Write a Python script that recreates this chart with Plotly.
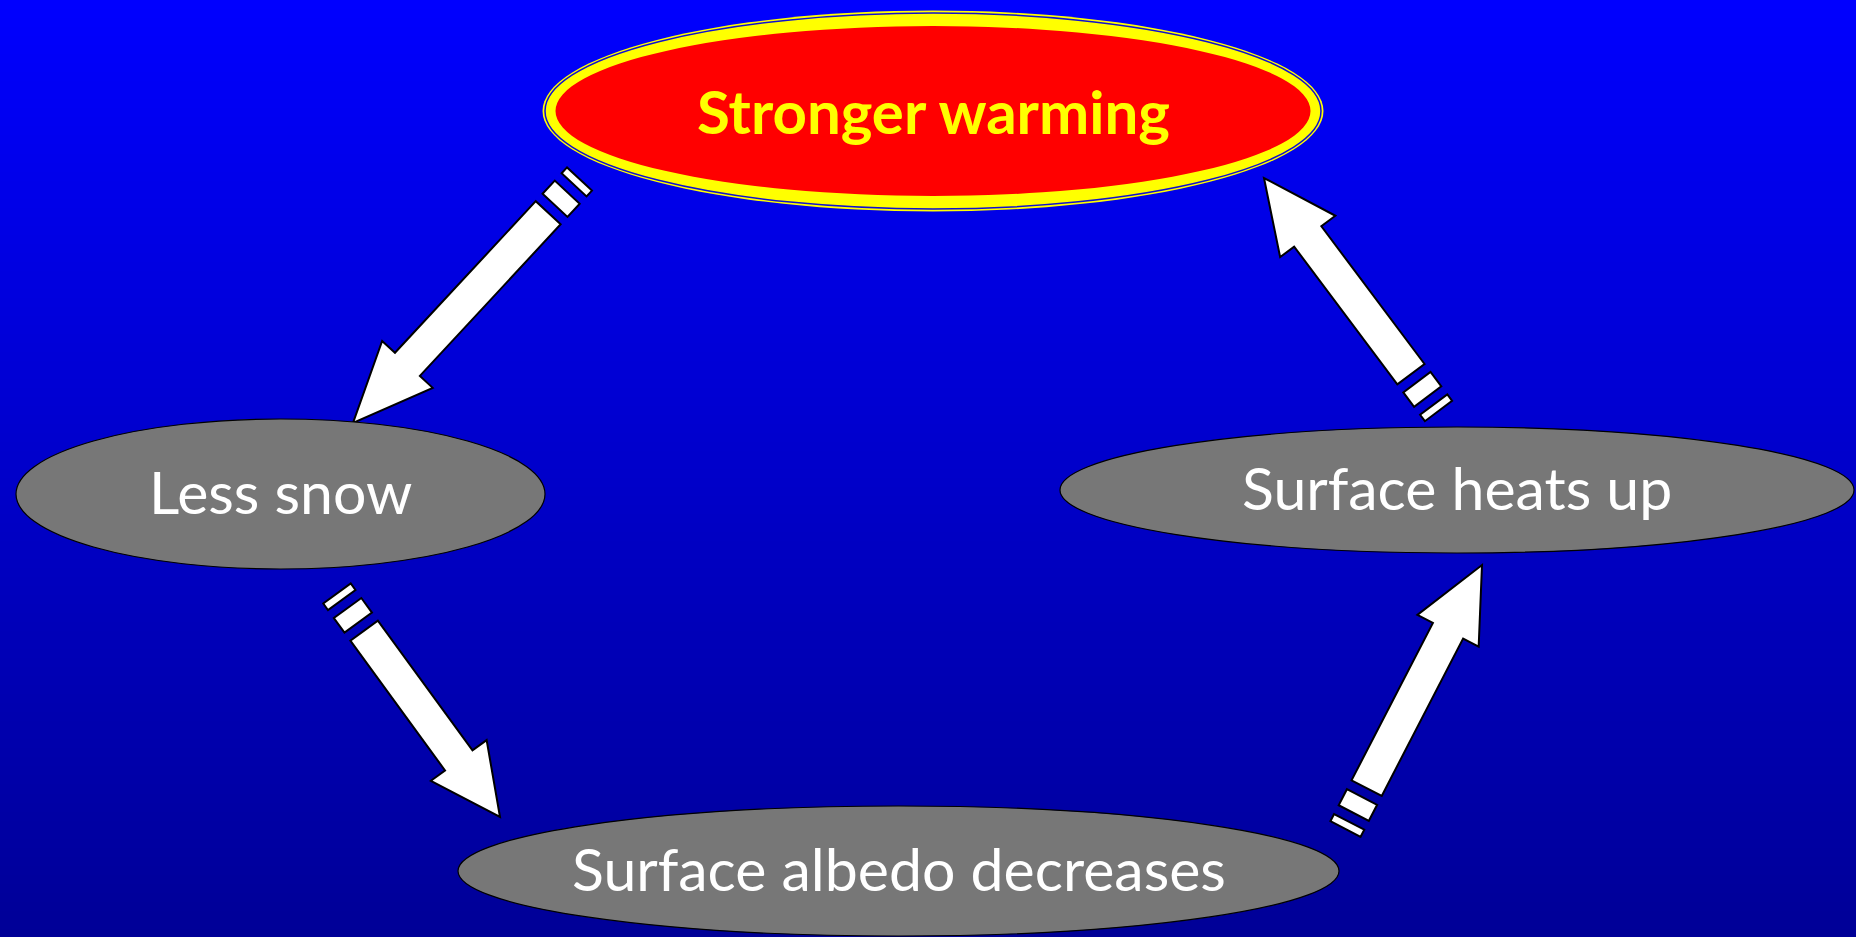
import numpy as np
import plotly.graph_objects as go

W, H = 1856, 937

# ---- node data ----
node_labels = ["Stronger warming", "Less snow", "Surface albedo decreases", "Surface heats up"]
node_cx = [933, 280.5, 898.5, 1457]
node_cy = [111, 494, 871, 490]
node_rx = [377.5, 264.5, 440.5, 397]
node_ry = [85, 75, 65, 63]
node_fill = ["#FF0000", "#777777", "#777777", "#777777"]
node_text_color = ["#FFFF00", "#FFFFFF", "#FFFFFF", "#FFFFFF"]
node_bold = [True, False, False, False]
node_font_size = [60, 59, 59, 59]
node_text_dy = [0, -3, -3, -3]

# ---- arrow data (tail end of stripes -> tip) ----
arrow_tail_x = [579.5, 337, 1345.5, 1438.5]
arrow_tail_y = [179, 593.5, 829, 411]
arrow_tip_x = [353, 500, 1482, 1264]
arrow_tip_y = [423, 817, 565, 178]
arrow_head_len = [80, 70, 74, 73]

SHAFT_W = 34
HEAD_W = 69
STRIPES = [(0, 8), (18, 36)]
SHAFT_START = 46

fig = go.Figure()

# background gradient
gy = np.linspace(-5, H + 5, 60)
gz = [[v, v] for v in gy]
fig.add_trace(go.Heatmap(x=[-5, W + 5], y=gy, z=gz, zsmooth="best",
                         colorscale=[[0, "#0000FF"], [1, "#000096"]],
                         showscale=False, hoverinfo="skip"))

shapes = []


def poly(pts):
    return "M " + " L ".join(f"{x:.2f},{y:.2f}" for x, y in pts) + " Z"


for tx, ty, px, py, hl in zip(arrow_tail_x, arrow_tail_y, arrow_tip_x, arrow_tip_y, arrow_head_len):
    T = np.array([tx, ty], float)
    P = np.array([px, py], float)
    L = np.linalg.norm(P - T)
    u = (P - T) / L
    n = np.array([-u[1], u[0]])
    for a, b in STRIPES:
        pts = [T + u * a + n * SHAFT_W / 2, T + u * b + n * SHAFT_W / 2,
               T + u * b - n * SHAFT_W / 2, T + u * a - n * SHAFT_W / 2]
        shapes.append(dict(type="path", path=poly(pts), fillcolor="white",
                           line=dict(color="black", width=2), xref="x", yref="y"))
    hb = L - hl
    pts = [T + u * SHAFT_START + n * SHAFT_W / 2, T + u * hb + n * SHAFT_W / 2,
           T + u * hb + n * HEAD_W / 2, P, T + u * hb - n * HEAD_W / 2,
           T + u * hb - n * SHAFT_W / 2, T + u * SHAFT_START - n * SHAFT_W / 2]
    shapes.append(dict(type="path", path=poly(pts), fillcolor="white",
                       line=dict(color="black", width=2), xref="x", yref="y"))

# top node decoration (yellow rings)
cx, cy, rx, ry = node_cx[0], node_cy[0], node_rx[0], node_ry[0]
shapes.append(dict(type="circle", x0=cx - rx - 13, x1=cx + rx + 13, y0=cy - ry - 15.5, y1=cy + ry + 15.5,
                   fillcolor="#FFFF00", line=dict(color="#FFFF00", width=0), xref="x", yref="y"))
shapes.append(dict(type="circle", x0=cx - rx - 10.5, x1=cx + rx + 10.5, y0=cy - ry - 13, y1=cy + ry + 13,
                   fillcolor="rgba(0,0,0,0)", line=dict(color="#1010D0", width=1.5), xref="x", yref="y"))

for i in range(len(node_labels)):
    cx, cy, rx, ry = node_cx[i], node_cy[i], node_rx[i], node_ry[i]
    shapes.append(dict(type="circle", x0=cx - rx, x1=cx + rx, y0=cy - ry, y1=cy + ry,
                       fillcolor=node_fill[i],
                       line=dict(color="black", width=0 if i == 0 else 1.2), xref="x", yref="y"))

annotations = []
for i, lab in enumerate(node_labels):
    txt = f"<b>{lab}</b>" if node_bold[i] else lab
    annotations.append(dict(x=node_cx[i], y=node_cy[i] + node_text_dy[i], text=txt, showarrow=False,
                            xref="x", yref="y", xanchor="center", yanchor="middle",
                            font=dict(family="Lato", size=node_font_size[i], color=node_text_color[i])))

fig.update_layout(
    width=W, height=H, margin=dict(l=0, r=0, t=0, b=0),
    xaxis=dict(range=[0, W], visible=False, fixedrange=True),
    yaxis=dict(range=[H, 0], visible=False, fixedrange=True),
    shapes=shapes, annotations=annotations,
    plot_bgcolor="#0000C0", paper_bgcolor="#0000C0", showlegend=False,
)

fig.write_html("out.html", config={"displayModeBar": False},
               post_script="document.body.style.margin='0px';document.body.style.overflow='hidden';")
